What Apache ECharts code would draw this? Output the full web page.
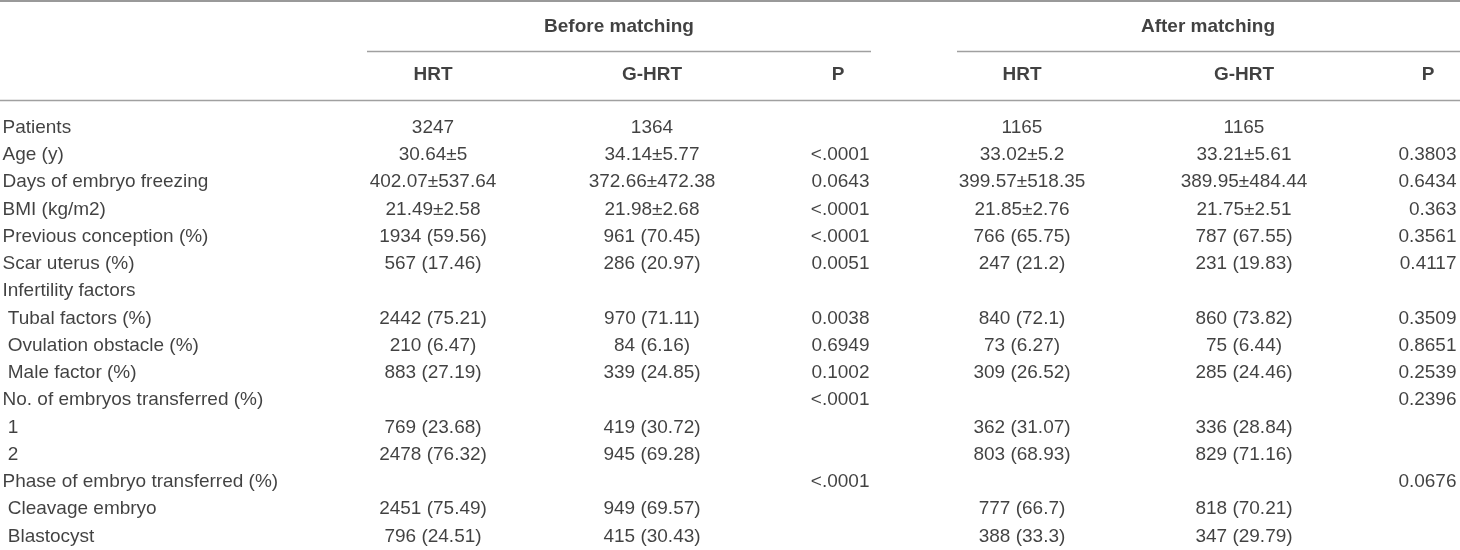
<!DOCTYPE html>
<html>
<head>
<meta charset="utf-8">
<script src="https://cdn.jsdelivr.net/npm/echarts@6/dist/echarts.min.js"></script>
<style>
  html, body { margin: 0; padding: 0; background: #fff; }
  #table-chart { width: 1460px; height: 550px; }
</style>
</head>
<body>
<div id="table-chart"></div>
<script>
// row labels (leading space = indented sub item)
var rowLabels = ['Patients', 'Age (y)', 'Days of embryo freezing', 'BMI (kg/m2)',
    'Previous conception (%)', 'Scar uterus (%)', 'Infertility factors',
    ' Tubal factors (%)', ' Ovulation obstacle (%)', ' Male factor (%)',
    'No. of embryos transferred (%)', ' 1', ' 2', 'Phase of embryo transferred (%)',
    ' Cleavage embryo', ' Blastocyst'];

var groupHeaders = ['Before matching', 'After matching'];
var colHeaders = ['HRT', 'G-HRT', 'P', 'HRT', 'G-HRT', 'P'];

var beforeHRT = ['3247', '30.64±5', '402.07±537.64', '21.49±2.58', '1934 (59.56)', '567 (17.46)', '',
    '2442 (75.21)', '210 (6.47)', '883 (27.19)', '', '769 (23.68)', '2478 (76.32)', '', '2451 (75.49)', '796 (24.51)'];
var beforeGHRT = ['1364', '34.14±5.77', '372.66±472.38', '21.98±2.68', '961 (70.45)', '286 (20.97)', '',
    '970 (71.11)', '84 (6.16)', '339 (24.85)', '', '419 (30.72)', '945 (69.28)', '', '949 (69.57)', '415 (30.43)'];
var beforeP = ['', '<.0001', '0.0643', '<.0001', '<.0001', '0.0051', '',
    '0.0038', '0.6949', '0.1002', '<.0001', '', '', '<.0001', '', ''];
var afterHRT = ['1165', '33.02±5.2', '399.57±518.35', '21.85±2.76', '766 (65.75)', '247 (21.2)', '',
    '840 (72.1)', '73 (6.27)', '309 (26.52)', '', '362 (31.07)', '803 (68.93)', '', '777 (66.7)', '388 (33.3)'];
var afterGHRT = ['1165', '33.21±5.61', '389.95±484.44', '21.75±2.51', '787 (67.55)', '231 (19.83)', '',
    '860 (73.82)', '75 (6.44)', '285 (24.46)', '', '336 (28.84)', '829 (71.16)', '', '818 (70.21)', '347 (29.79)'];
var afterP = ['', '0.3803', '0.6434', '0.363', '0.3561', '0.4117', '',
    '0.3509', '0.8651', '0.2539', '0.2396', '', '', '0.0676', '', ''];

(function () {
    var FONT = 'Liberation Sans, Arial, Helvetica, sans-serif';
    var INK = '#111';
    var RULE = '#a0a0a0';
    var SIZE = 19;

    // layout: column anchors on the 0..1460 x scale
    var labelX = 2;
    var groupX = [619, 1208];
    var headX = [433, 652, 838, 1022, 1244, 1428];
    var cols = [
        {vals: beforeHRT, x: 433, pos: 'inside'},
        {vals: beforeGHRT, x: 652, pos: 'inside'},
        {vals: beforeP, x: 870, pos: 'left'},
        {vals: afterHRT, x: 1022, pos: 'inside'},
        {vals: afterGHRT, x: 1244, pos: 'inside'},
        {vals: afterP, x: 1457, pos: 'left'}
    ];

    function textSeries(data, pos, xi, yi, bold) {
        return {
            type: 'scatter',
            xAxisIndex: xi,
            yAxisIndex: yi,
            symbolSize: 1,
            itemStyle: {color: 'rgba(0,0,0,0)'},
            silent: true,
            animation: false,
            data: data,
            label: {
                show: true,
                position: pos,
                distance: 0,
                align: pos === 'inside' ? 'center' : (pos === 'left' ? 'right' : 'left'),
                verticalAlign: 'middle',
                formatter: function (p) { return p.data.text; },
                color: INK,
                fontFamily: FONT,
                fontSize: SIZE,
                fontWeight: bold ? 'bold' : 'normal'
            }
        };
    }

    function cells(vals, x) {
        var out = [];
        vals.forEach(function (v, i) {
            if (v !== '') out.push({value: [x, i], text: v});
        });
        return out;
    }

    var series = [];
    series.push(textSeries(cells(rowLabels, labelX), 'right', 0, 0, false));
    cols.forEach(function (c) {
        series.push(textSeries(cells(c.vals, c.x), c.pos, 0, 0, false));
    });
    series.push(textSeries(groupHeaders.map(function (h, i) {
        return {value: [groupX[i], 0], text: h};
    }), 'inside', 1, 1, true));
    series.push(textSeries(colHeaders.map(function (h, i) {
        return {value: [headX[i], 1], text: h};
    }), 'inside', 1, 1, true));

    var option = {
        backgroundColor: '#fff',
        animation: false,
        grid: [
            {left: 0, right: 0, top: 114, bottom: -2},
            {left: 0, right: 0, top: 3, height: 96}
        ],
        xAxis: [
            {type: 'value', min: 0, max: 1460, show: false, gridIndex: 0},
            {type: 'value', min: 0, max: 1460, show: false, gridIndex: 1}
        ],
        yAxis: [
            {type: 'category', inverse: true, data: rowLabels, show: false, gridIndex: 0},
            {type: 'category', inverse: true, data: ['group', 'column'], show: false, gridIndex: 1}
        ],
        graphic: [
            {type: 'line', shape: {x1: 0, y1: 1, x2: 1460, y2: 1}, style: {stroke: '#999', lineWidth: 2}, silent: true},
            {type: 'line', shape: {x1: 367, y1: 51.5, x2: 871, y2: 51.5}, style: {stroke: RULE, lineWidth: 1.5}, silent: true},
            {type: 'line', shape: {x1: 957, y1: 51.5, x2: 1460, y2: 51.5}, style: {stroke: RULE, lineWidth: 1.5}, silent: true},
            {type: 'line', shape: {x1: 0, y1: 100.5, x2: 1460, y2: 100.5}, style: {stroke: RULE, lineWidth: 1.5}, silent: true}
        ],
        series: series
    };

    var chart = echarts.init(document.getElementById('table-chart'));
    chart.setOption(option);
}());
</script>
</body>
</html>
